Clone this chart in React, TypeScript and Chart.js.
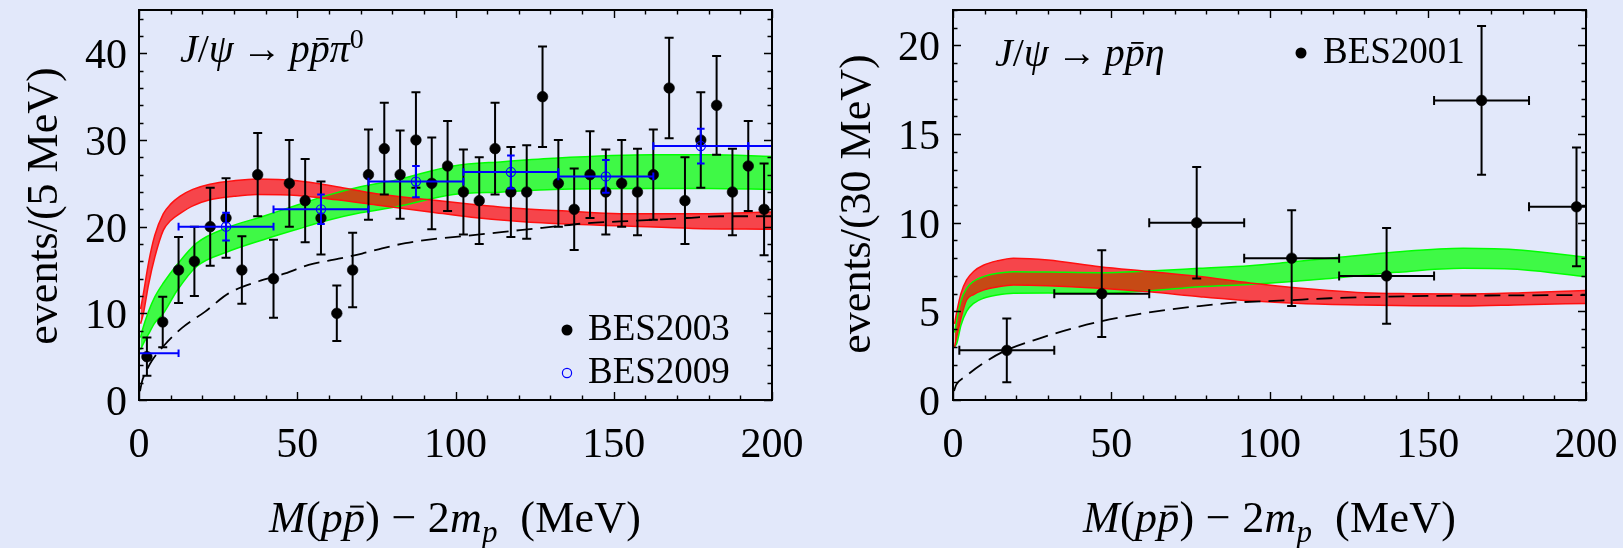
import React, { useEffect, useRef } from 'react';
import { Chart, registerables } from 'chart.js';

Chart.register(...registerables);

// ---------- J/psi -> p pbar pi0 ----------
const bes2003Mass = [2.5, 7.5, 12.5, 17.5, 22.5, 27.5, 32.5, 37.5, 42.5, 47.5, 52.5, 57.5, 62.5, 67.5, 72.5, 77.5, 82.5, 87.5, 92.5, 97.5, 102.5, 107.5, 112.5, 117.5, 122.5, 127.5, 132.5, 137.5, 142.5, 147.5, 152.5, 157.5, 162.5, 167.5, 172.5, 177.5, 182.5, 187.5, 192.5, 197.5];
const bes2003Events = [5, 9, 15, 16, 20, 21, 15, 26, 14, 25, 23, 21, 10, 15, 26, 29, 26, 30, 25, 27, 24, 23, 29, 24, 24, 35, 25, 22, 26, 24, 25, 24, 26, 36, 23, 30, 34, 24, 27, 22];
const bes2003Error = [2.2, 2.9, 3.8, 4, 4.5, 4.6, 3.9, 4.8, 4.5, 5, 4.8, 4.2, 3.2, 4.3, 5.2, 5.3, 5.1, 5.5, 5.3, 5.2, 4.9, 5, 5.3, 5.2, 5.4, 5.8, 5, 4.7, 5, 4.9, 5, 5, 5.2, 5.8, 5, 5.5, 5.7, 5, 5.2, 5.3];

const bes2009Mass = [-2.5, 27.5, 57.5, 87.5, 117.5, 147.5, 177.5, 207.5];
const bes2009Events = [5.4, 20, 22, 25.2, 26.3, 25.8, 29.3, 29.3];
const bes2009Error = [1.2, 1.6, 1.7, 1.8, 1.9, 1.9, 2.0, 2.0];
const bes2009HalfBin = 15;

const pi0RedMass = [0.5, 1.4, 3, 5, 7.7, 10, 12.9, 17, 22.4, 30, 37.2, 50, 62.5, 75, 92, 105, 120.4, 135, 152, 175, 200];
const pi0RedHigh = [10.5, 12.3, 15.8, 19.0, 21.5, 22.6, 23.5, 24.3, 24.9, 25.3, 25.5, 25.3, 24.6, 23.8, 23.1, 22.6, 22.1, 21.8, 21.5, 21.5, 21.7];
const pi0RedLow = [8.8, 10.0, 13.3, 16.5, 19.6, 20.7, 21.5, 22.4, 23.1, 23.5, 23.7, 23.6, 23.1, 22.5, 21.7, 21.1, 20.6, 20.3, 20.1, 19.8, 19.7];

const pi0GreenMass = [0.5, 1.1, 3, 5, 7.7, 12, 18.2, 28, 39.3, 50, 60.3, 70, 81.4, 99.3, 115, 130.9, 162.5, 180, 200];
const pi0GreenHigh = [7.2, 8.1, 10.2, 11.9, 13.5, 15.6, 18.1, 19.9, 21.2, 22.5, 23.7, 24.6, 25.4, 27.0, 27.5, 27.9, 28.3, 28.3, 28.1];
const pi0GreenLow = [5.8, 6.3, 7.6, 8.9, 10.0, 12.6, 15.4, 17.1, 18.5, 19.7, 20.8, 21.6, 22.3, 23.7, 24.0, 24.3, 24.4, 24.4, 24.3];

const pi0PhaseMass = [0.3, 1, 2, 4, 7.7, 13.5, 20.9, 28.3, 37.8, 46.2, 53.6, 63.1, 70.5, 76.8, 84.2, 91.6, 107.7, 120.4, 130.9, 141.4, 152, 162.5, 173, 183.6, 200];
const pi0PhaseEvents = [1.0, 2.2, 3.1, 4.5, 6.2, 8.3, 10.2, 12.3, 13.7, 14.6, 15.6, 16.3, 16.9, 17.5, 18.1, 18.5, 19.1, 19.6, 20.0, 20.4, 20.6, 20.8, 21.0, 21.2, 21.2];

// ---------- J/psi -> p pbar eta ----------
const bes2001Mass = [17, 47, 77, 107, 137, 167, 197];
const bes2001Events = [2.8, 6.0, 10.0, 8.0, 7.0, 16.9, 10.9];
const bes2001Error = [1.8, 2.45, 3.15, 2.7, 2.7, 4.2, 3.35];
const bes2001HalfBin = 15;

const etaRedMass = [0.5, 1.2, 2.5, 4.3, 6.5, 9.6, 14, 19.1, 30, 46.4, 62, 78, 93.8, 110, 129.6, 145, 161.2, 180, 200];
const etaRedHigh = [4.3, 4.98, 6.0, 6.77, 7.25, 7.6, 7.85, 8.0, 7.9, 7.52, 7.25, 6.96, 6.6, 6.3, 6.05, 6.0, 5.98, 6.05, 6.17];
const etaRedLow = [3.0, 3.57, 4.6, 5.64, 5.95, 6.2, 6.38, 6.49, 6.45, 6.3, 6.1, 5.83, 5.6, 5.45, 5.36, 5.32, 5.3, 5.38, 5.45];

const etaGreenMass = [0.5, 1.2, 2.5, 4.3, 6.5, 9.6, 14, 19.1, 30, 46.4, 62, 78, 93.8, 105, 119.1, 140, 161.2, 180, 200];
const etaGreenHigh = [3.8, 4.5, 5.6, 6.3, 6.7, 6.96, 7.15, 7.24, 7.22, 7.18, 7.28, 7.43, 7.58, 7.75, 7.99, 8.35, 8.56, 8.45, 8.05];
const etaGreenLow = [3.0, 3.2, 4.2, 5.0, 5.45, 5.74, 5.92, 6.02, 6.03, 6.02, 6.15, 6.39, 6.52, 6.65, 6.86, 7.2, 7.43, 7.35, 6.95];

const etaPhaseMass = [0.3, 1, 3.8, 11.2, 17, 27.4, 37.9, 46.4, 56.9, 67.4, 77.9, 88.5, 105, 119.1, 135, 150.7, 175, 200];
const etaPhaseEvents = [0.5, 0.85, 1.31, 2.26, 2.82, 3.48, 4.04, 4.42, 4.79, 5.08, 5.3, 5.49, 5.62, 5.74, 5.82, 5.87, 5.9, 5.92];

// ---------- axes ----------
const massLabels = [0, 50, 100, 150, 200];
const massMinor = [0, 10, 20, 30, 40, 50, 60, 70, 80, 90, 100, 110, 120, 130, 140, 150, 160, 170, 180, 190, 200];
const pi0Labels = [0, 10, 20, 30, 40];
const pi0Minor = [0, 2, 4, 6, 8, 10, 12, 14, 16, 18, 20, 22, 24, 26, 28, 30, 32, 34, 36, 38, 40, 42, 44];
const etaLabels = [0, 5, 10, 15, 20];
const etaMinor = [0, 1, 2, 3, 4, 5, 6, 7, 8, 9, 10, 11, 12, 13, 14, 15, 16, 17, 18, 19, 20, 21, 22];

const BG = '#e2e8fa';
const SERIF = '"Liberation Serif", "Times New Roman", serif';
const GREEN_FILL = 'rgba(0, 255, 0, 0.72)';
const RED_FILL = 'rgba(255, 0, 0, 0.70)';
const GREEN_EDGE = '#00ff00';
const RED_EDGE = '#ff1010';

type Run = { t: string; italic?: boolean; sub?: boolean; sup?: boolean; bar?: boolean };

const massTitle: Run[] = [
  { t: 'M', italic: true },
  { t: '(' },
  { t: 'p', italic: true },
  { t: 'p', italic: true, bar: true },
  { t: ') − 2' },
  { t: 'm', italic: true },
  { t: 'p', italic: true, sub: true },
  { t: '  (MeV)' },
];
const pi0Reaction: Run[] = [
  { t: 'J', italic: true },
  { t: '/' },
  { t: 'ψ', italic: true },
  { t: '\u2009→\u2009' },
  { t: 'p', italic: true },
  { t: 'p', italic: true, bar: true },
  { t: 'π', italic: true },
  { t: '0', sup: true },
];
const etaReaction: Run[] = [
  { t: 'J', italic: true },
  { t: '/' },
  { t: 'ψ', italic: true },
  { t: '\u2009→\u2009' },
  { t: 'p', italic: true },
  { t: 'p', italic: true, bar: true },
  { t: 'η', italic: true },
];

function runFont(r: Run, size: number) {
  const s = r.sub || r.sup ? Math.round(size * 0.7) : size;
  return `${r.italic ? 'italic ' : ''}${s}px ${SERIF}`;
}

// draws mixed upright / italic / sub / superscript text, optionally stretched to a given width
function drawRich(ctx: CanvasRenderingContext2D, runs: Run[], x: number, baseline: number, size: number, align: 'left' | 'center', width?: number) {
  let natural = 0;
  let chars = 0;
  for (const r of runs) {
    ctx.font = runFont(r, size);
    natural += ctx.measureText(r.t).width;
    chars += [...r.t].length;
  }
  const extra = width && chars > 1 ? (width - natural) / (chars - 1) : 0;
  const total = natural + extra * (chars - 1);
  let cx = align === 'center' ? x - total / 2 : x;
  ctx.textAlign = 'left';
  ctx.textBaseline = 'alphabetic';
  for (const r of runs) {
    ctx.font = runFont(r, size);
    const dy = r.sub ? size * 0.22 : r.sup ? -size * 0.34 : 0;
    for (const ch of [...r.t]) {
      const w = ctx.measureText(ch).width;
      ctx.fillText(ch, cx, baseline + dy);
      if (r.bar) ctx.fillRect(cx + w * 0.32, baseline - size * 0.6, w * 0.62, Math.max(1.6, size * 0.045));
      cx += w + extra;
    }
  }
}

type ErrSet = { mass: number[]; events: number[]; error: number[]; halfBin?: number; color: string; width: number; cap: number };
type Legend = { marker: 'dot' | 'ring'; color: string; mx: number; my: number; text: string; tx: number; baseline: number };

type PanelSpec = {
  width: number;
  area: { left: number; top: number; right: number; bottom: number };
  yMax: number;
  yLabels: number[];
  yMinor: number[];
  yMajor: number[];
  yTitle: string;
  yTitleX: number;
  yTitleY: number;
  yTickPad: number;
  xTitleX: number;
  xTitleW: number;
  reaction: Run[];
  reactionX: number;
  reactionY: number;
  legend: Legend[];
  errors: ErrSet[];
  datasets: any[];
};

const xy = (xs: number[], ys: number[]) => xs.map((x, i) => ({ x, y: ys[i] }));

function bandDatasets(mass: number[], low: number[], high: number[], fill: string, edge: string, baseIndex: number, fillOrder: number, edgeOrder: number) {
  const common = { pointRadius: 0, cubicInterpolationMode: 'monotone' as const, clip: 0 };
  return [
    { ...common, data: xy(mass, low), borderColor: 'rgba(0,0,0,0)', borderWidth: 0, fill: false, order: fillOrder },
    { ...common, data: xy(mass, high), borderColor: 'rgba(0,0,0,0)', borderWidth: 0, backgroundColor: fill, fill: { target: baseIndex }, order: fillOrder },
    { ...common, data: xy(mass, low), borderColor: edge, borderWidth: 1.5, fill: false, order: edgeOrder },
    { ...common, data: xy(mass, high), borderColor: edge, borderWidth: 1.5, fill: false, order: edgeOrder },
  ];
}

function phaseDataset(mass: number[], events: number[]) {
  return {
    data: xy(mass, events), borderColor: '#000', borderWidth: 1.8, borderDash: [16, 8], pointRadius: 0,
    cubicInterpolationMode: 'monotone' as const, fill: false, order: 3, clip: 0,
  };
}

const H = 548;

const pi0Spec: PanelSpec = {
  width: 811,
  area: { left: 139, top: 10, right: 772, bottom: 400 },
  yMax: 45,
  yLabels: pi0Labels,
  yMinor: pi0Minor,
  yMajor: pi0Labels,
  yTitle: 'events/(5 MeV)',
  yTitleX: 57,
  yTitleY: 206,
  yTickPad: 12,
  xTitleX: 455,
  xTitleW: 372,
  reaction: pi0Reaction,
  reactionX: 180,
  reactionY: 62,
  legend: [
    { marker: 'dot', color: '#000', mx: 567, my: 330, text: 'BES2003', tx: 588, baseline: 340 },
    { marker: 'ring', color: '#0000ff', mx: 567, my: 373, text: 'BES2009', tx: 588, baseline: 383 },
  ],
  errors: [
    { mass: bes2003Mass, events: bes2003Events, error: bes2003Error, color: '#000', width: 2, cap: 4.5 },
    { mass: bes2009Mass, events: bes2009Events, error: bes2009Error, halfBin: bes2009HalfBin, color: '#0000ff', width: 2, cap: 3.8 },
  ],
  datasets: [
    ...bandDatasets(pi0GreenMass, pi0GreenLow, pi0GreenHigh, GREEN_FILL, GREEN_EDGE, 0, 9, 6),
    ...bandDatasets(pi0RedMass, pi0RedLow, pi0RedHigh, RED_FILL, RED_EDGE, 4, 8, 5),
    phaseDataset(pi0PhaseMass, pi0PhaseEvents),
    {
      label: 'BES2003', data: xy(bes2003Mass, bes2003Events), showLine: false, pointRadius: 5.3,
      pointBackgroundColor: '#000', pointBorderColor: '#000', pointBorderWidth: 0.6, order: 1, clip: 0,
    },
    {
      label: 'BES2009', data: xy(bes2009Mass, bes2009Events), showLine: false, pointRadius: 4.6,
      pointBackgroundColor: 'rgba(0,0,0,0)', pointBorderColor: '#0000ff', pointBorderWidth: 1.2, order: 0, clip: 0,
    },
  ],
};

const etaSpec: PanelSpec = {
  width: 812,
  area: { left: 142, top: 10, right: 775, bottom: 400 },
  yMax: 22,
  yLabels: etaLabels,
  yMinor: etaMinor,
  yMajor: etaLabels,
  yTitle: 'events/(30 MeV)',
  yTitleX: 59,
  yTitleY: 204,
  yTickPad: 13,
  xTitleX: 458.5,
  xTitleW: 373,
  reaction: etaReaction,
  reactionX: 184,
  reactionY: 66,
  legend: [{ marker: 'dot', color: '#000', mx: 490, my: 53, text: 'BES2001', tx: 512, baseline: 63 }],
  errors: [
    { mass: bes2001Mass, events: bes2001Events, error: bes2001Error, halfBin: bes2001HalfBin, color: '#000', width: 2, cap: 4.5 },
  ],
  datasets: [
    ...bandDatasets(etaGreenMass, etaGreenLow, etaGreenHigh, GREEN_FILL, GREEN_EDGE, 0, 9, 6),
    ...bandDatasets(etaRedMass, etaRedLow, etaRedHigh, RED_FILL, RED_EDGE, 4, 8, 5),
    phaseDataset(etaPhaseMass, etaPhaseEvents),
    {
      label: 'BES2001', data: xy(bes2001Mass, bes2001Events), showLine: false, pointRadius: 5.3,
      pointBackgroundColor: '#000', pointBorderColor: '#000', pointBorderWidth: 0.6, order: 1, clip: 0,
    },
  ],
};

function makeDecor(spec: PanelSpec) {
  return {
    id: 'panelDecor',
    afterDatasetsDraw(chart: any) {
      const { ctx, chartArea: a } = chart;
      const xs = chart.scales.x;
      const ys = chart.scales.y;
      ctx.save();
      ctx.beginPath();
      ctx.rect(a.left, a.top, a.right - a.left, a.bottom - a.top);
      ctx.clip();
      for (const s of spec.errors) {
        ctx.strokeStyle = s.color;
        ctx.lineWidth = s.width;
        s.mass.forEach((m, i) => {
          const px = xs.getPixelForValue(m);
          const py = ys.getPixelForValue(s.events[i]);
          const top = ys.getPixelForValue(s.events[i] + s.error[i]);
          const bot = ys.getPixelForValue(s.events[i] - s.error[i]);
          ctx.beginPath();
          ctx.moveTo(px, top);
          ctx.lineTo(px, bot);
          ctx.moveTo(px - s.cap, top);
          ctx.lineTo(px + s.cap, top);
          ctx.moveTo(px - s.cap, bot);
          ctx.lineTo(px + s.cap, bot);
          if (s.halfBin) {
            const xl = xs.getPixelForValue(m - s.halfBin);
            const xr = xs.getPixelForValue(m + s.halfBin);
            ctx.moveTo(xl, py);
            ctx.lineTo(xr, py);
            ctx.moveTo(xl, py - s.cap);
            ctx.lineTo(xl, py + s.cap);
            ctx.moveTo(xr, py - s.cap);
            ctx.lineTo(xr, py + s.cap);
          }
          ctx.stroke();
        });
      }
      ctx.restore();
    },
    afterDraw(chart: any) {
      const { ctx, chartArea: a } = chart;
      const xs = chart.scales.x;
      const ys = chart.scales.y;
      ctx.save();
      ctx.strokeStyle = '#000';
      ctx.fillStyle = '#000';

      // inward tick marks on all four sides
      ctx.lineWidth = 1.4;
      ctx.beginPath();
      for (const v of massMinor) {
        const px = Math.round(xs.getPixelForValue(v)) + 0.5;
        const len = massLabels.includes(v) ? 8 : 4.5;
        ctx.moveTo(px, a.bottom);
        ctx.lineTo(px, a.bottom - len);
        ctx.moveTo(px, a.top);
        ctx.lineTo(px, a.top + len);
      }
      for (const v of spec.yMinor) {
        const py = Math.round(ys.getPixelForValue(v)) + 0.5;
        const len = spec.yMajor.includes(v) ? 8 : 4.5;
        ctx.moveTo(a.left, py);
        ctx.lineTo(a.left + len, py);
        ctx.moveTo(a.right, py);
        ctx.lineTo(a.right - len, py);
      }
      ctx.stroke();

      // frame
      ctx.lineWidth = 2;
      ctx.strokeRect(a.left, a.top, a.right - a.left, a.bottom - a.top);

      // axis titles
      drawRich(ctx, massTitle, spec.xTitleX, 532, 44, 'center', spec.xTitleW);
      ctx.save();
      ctx.translate(spec.yTitleX, spec.yTitleY);
      ctx.rotate(-Math.PI / 2);
      ctx.font = `44px ${SERIF}`;
      ctx.textAlign = 'center';
      ctx.textBaseline = 'alphabetic';
      ctx.fillText(spec.yTitle, 0, 0);
      ctx.restore();

      // reaction label
      drawRich(ctx, spec.reaction, spec.reactionX, spec.reactionY, 40, 'left');

      // legend
      for (const l of spec.legend) {
        ctx.beginPath();
        if (l.marker === 'dot') {
          ctx.fillStyle = l.color;
          ctx.arc(l.mx, l.my, 5.5, 0, Math.PI * 2);
          ctx.fill();
        } else {
          ctx.strokeStyle = l.color;
          ctx.lineWidth = 1.2;
          ctx.arc(l.mx, l.my, 4.6, 0, Math.PI * 2);
          ctx.stroke();
        }
        ctx.fillStyle = '#000';
        ctx.font = `37px ${SERIF}`;
        ctx.textAlign = 'left';
        ctx.textBaseline = 'alphabetic';
        ctx.fillText(l.text, l.tx, l.baseline);
      }
      ctx.restore();
    },
  };
}

function Panel({ spec }: { spec: PanelSpec }) {
  const ref = useRef<HTMLCanvasElement | null>(null);
  useEffect(() => {
    if (!ref.current) return;
    const a = spec.area;
    const tickFont = { family: SERIF, size: 42 };
    const chart = new Chart(ref.current, {
      type: 'line',
      data: { datasets: spec.datasets },
      options: {
        animation: false,
        responsive: false,
        devicePixelRatio: 1,
        events: [],
        layout: {
          autoPadding: false,
          padding: { left: 0, top: a.top, right: spec.width - a.right, bottom: 0 },
        },
        plugins: { legend: { display: false }, tooltip: { enabled: false } },
        scales: {
          x: {
            type: 'linear',
            min: 0,
            max: 200,
            grid: { display: false, drawTicks: false, tickLength: 0 },
            border: { display: false },
            ticks: { font: tickFont, color: '#000', padding: 21, autoSkip: false, maxRotation: 0, minRotation: 0 },
            afterBuildTicks: (scale: any) => {
              scale.ticks = massLabels.map((v) => ({ value: v }));
            },
            afterFit: (scale: any) => {
              scale.height = H - a.bottom;
              scale.paddingLeft = 0;
              scale.paddingRight = 0;
            },
          },
          y: {
            type: 'linear',
            min: 0,
            max: spec.yMax,
            grid: { display: false, drawTicks: false, tickLength: 0 },
            border: { display: false },
            ticks: { font: tickFont, color: '#000', padding: spec.yTickPad, labelOffset: 4, autoSkip: false },
            afterBuildTicks: (scale: any) => {
              scale.ticks = spec.yLabels.map((v) => ({ value: v }));
            },
            afterFit: (scale: any) => {
              scale.width = a.left;
              scale.paddingTop = 0;
              scale.paddingBottom = 0;
            },
          },
        },
      } as any,
      plugins: [makeDecor(spec)],
    });
    return () => chart.destroy();
  }, [spec]);
  return <canvas ref={ref} width={spec.width} height={H} style={{ display: 'block', width: spec.width, height: H }} />;
}

export default function App() {
  return (
    <div style={{ position: 'absolute', left: 0, top: 0, width: 1623, height: H, background: BG, display: 'flex' }}>
      <Panel spec={pi0Spec} />
      <Panel spec={etaSpec} />
    </div>
  );
}
